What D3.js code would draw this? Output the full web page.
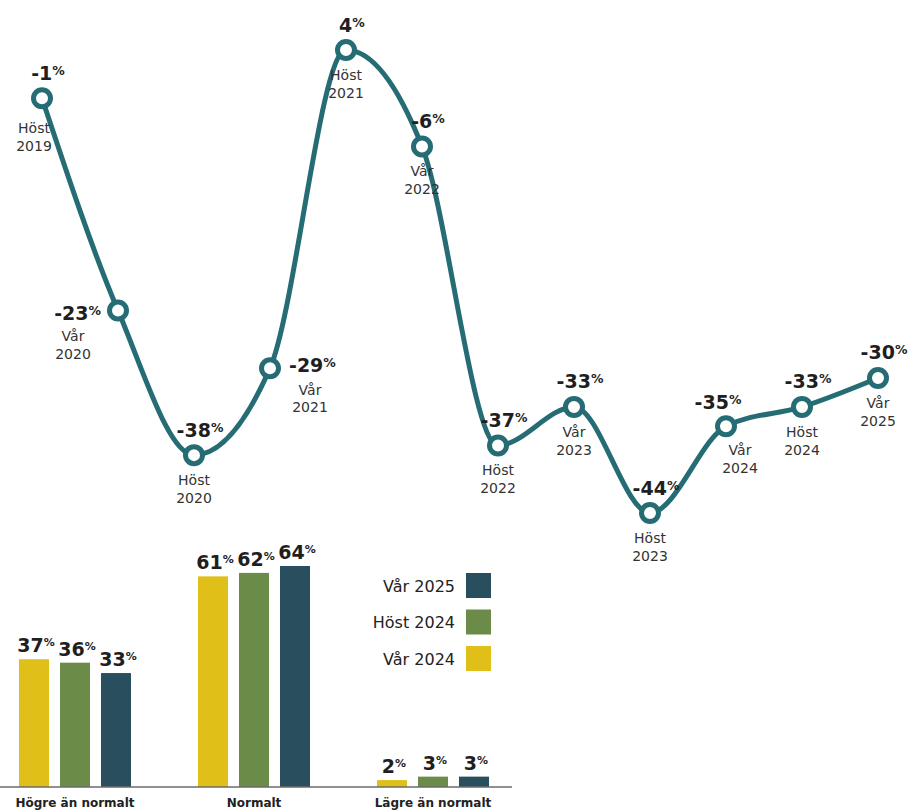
<!DOCTYPE html>
<html>
<head>
<meta charset="utf-8">
<script src="https://cdn.jsdelivr.net/npm/d3@7"></script>
<style>
  body { margin: 0; background: #fff; }
  svg { display: block; font-family: 'DejaVu Sans', sans-serif; }
</style>
</head>
<body>
<div id="chart"></div>
<script>
// line chart: net balance per survey
var periods = ['Höst 2019', 'Vår 2020', 'Höst 2020', 'Vår 2021', 'Höst 2021', 'Vår 2022',
               'Höst 2022', 'Vår 2023', 'Höst 2023', 'Vår 2024', 'Höst 2024', 'Vår 2025']
var balance = [-1, -23, -38, -29, 4, -6, -37, -33, -44, -35, -33, -30]

// bar chart: share of answers in the last three surveys
var groups = ['Högre än normalt', 'Normalt', 'Lägre än normalt']
var seriesNames = ['Vår 2024', 'Höst 2024', 'Vår 2025']
var vaar2024 = [37, 61, 2]
var host2024 = [36, 62, 3]
var vaar2025 = [33, 64, 3]
var seriesValues = [vaar2024, host2024, vaar2025]

var width = 909, height = 810
var lineColor = '#256c74'
var barColors = ['#e0bf19', '#6b8c48', '#294f5e']

// where each point's labels go
var labelSide = ['edge', 'left', 'above', 'right', 'above', 'above',
                 'above', 'above', 'above', 'aboveLeft', 'above', 'above']
var sideOffsets = {
  above:     { vx: 0,   vy: -18.5, anchor: 'middle', cx: 0,   cy: [30, 48] },
  edge:      { vx: 0,   vy: -18.5, anchor: 'middle', cx: -8,  cy: [35, 53] },
  left:      { vx: -17, vy: 9.5,   anchor: 'end',    cx: -45, cy: [31, 49] },
  right:     { vx: 19,  vy: 3.5,   anchor: 'start',  cx: 40,  cy: [27, 44] },
  aboveLeft: { vx: -14, vy: -17,   anchor: 'middle', cx: 14,  cy: [29, 47] }
}

var svg = d3.select('#chart').append('svg')
            .attr('width', width)
            .attr('height', height)

var x = d3.scalePoint().domain(periods).range([42, 878])
var y = d3.scaleLinear().domain([-44, 4]).range([513, 50])

var points = periods.map(function(p, i) {
  return { period: p, value: balance[i], side: labelSide[i] }
})

var line = d3.line()
             .x(function(d) { return x(d.period) })
             .y(function(d) { return y(d.value) })
             .curve(d3.curveMonotoneX)

svg.append('path')
   .datum(points)
   .attr('d', line)
   .attr('fill', 'none')
   .attr('stroke', lineColor)
   .attr('stroke-width', 5)

svg.selectAll('circle.pt')
   .data(points)
   .enter().append('circle')
   .attr('class', 'pt')
   .attr('cx', function(d) { return x(d.period) })
   .attr('cy', function(d) { return y(d.value) })
   .attr('r', 8.5)
   .attr('fill', '#fff')
   .attr('stroke', lineColor)
   .attr('stroke-width', 5)

var valueLabels = svg.selectAll('text.val')
   .data(points)
   .enter().append('text')
   .attr('class', 'val')
   .attr('x', function(d) {
     var o = sideOffsets[d.side]
     return x(d.period) + o.vx + (o.anchor === 'middle' ? 6 : 0)
   })
   .attr('y', function(d) { return y(d.value) + sideOffsets[d.side].vy })
   .attr('text-anchor', function(d) { return sideOffsets[d.side].anchor })
   .attr('fill', '#1f1f1f')
   .attr('font-weight', 'bold')
   .attr('font-size', 19)
valueLabels.append('tspan').text(function(d) { return d.value })
valueLabels.append('tspan')
   .attr('font-size', 12.5)
   .attr('dy', -5)
   .text('%')

var catLabels = svg.selectAll('text.cat')
   .data(points)
   .enter().append('text')
   .attr('class', 'cat')
   .attr('text-anchor', 'middle')
   .attr('fill', '#333')
   .attr('font-size', 14)
catLabels.each(function(d) {
  var o = sideOffsets[d.side]
  var parts = d.period.split(' ')
  var t = d3.select(this)
  parts.forEach(function(part, k) {
    t.append('tspan')
     .attr('x', x(d.period) + o.cx)
     .attr('y', y(d.value) + o.cy[k])
     .text(part)
  })
})

// bar chart
var baseY = 787
var gx = d3.scaleBand().domain(groups).range([19, 19 + 179 * 3])
var sx = d3.scaleBand().domain(seriesNames).range([0, 112]).paddingInner(0.268)
var by = d3.scaleLinear().domain([0, 64]).range([baseY, 566])

var barData = []
groups.forEach(function(g, gi) {
  seriesNames.forEach(function(s, si) {
    barData.push({ group: g, series: s, si: si, value: seriesValues[si][gi] })
  })
})

var bars = svg.append('g')
bars.selectAll('rect')
    .data(barData)
    .enter().append('rect')
    .attr('x', function(d) { return gx(d.group) + sx(d.series) })
    .attr('y', function(d) { return by(d.value) })
    .attr('width', sx.bandwidth())
    .attr('height', function(d) { return baseY - by(d.value) })
    .attr('fill', function(d) { return barColors[d.si] })

var barLabels = bars.selectAll('text.bv')
    .data(barData)
    .enter().append('text')
    .attr('class', 'bv')
    .attr('x', function(d) { return gx(d.group) + sx(d.series) + sx.bandwidth() / 2 + 2 })
    .attr('y', function(d) { return by(d.value) - 7 })
    .attr('text-anchor', 'middle')
    .attr('fill', '#1f1f1f')
    .attr('font-weight', 'bold')
    .attr('font-size', 19)
barLabels.append('tspan').text(function(d) { return d.value })
barLabels.append('tspan')
    .attr('font-size', 11)
    .attr('dy', -6)
    .text('%')

svg.append('line')
   .attr('x1', 0).attr('x2', 512)
   .attr('y1', baseY).attr('y2', baseY)
   .attr('stroke', '#6b6b6b')
   .attr('stroke-width', 1.5)

svg.selectAll('text.grp')
   .data(groups)
   .enter().append('text')
   .attr('class', 'grp')
   .attr('x', function(d) { return gx(d) + 56 })
   .attr('y', 807)
   .attr('text-anchor', 'middle')
   .attr('fill', '#222')
   .attr('font-weight', 'bold')
   .attr('font-size', 12)
   .text(function(d) { return d })

// legend, newest on top
var legend = svg.append('g')
var legendItems = seriesNames.slice().reverse()
legend.selectAll('rect')
      .data(legendItems)
      .enter().append('rect')
      .attr('x', 466)
      .attr('y', function(d, i) { return 573 + i * 36.5 })
      .attr('width', 25)
      .attr('height', 25)
      .attr('fill', function(d) { return barColors[seriesNames.indexOf(d)] })
legend.selectAll('text')
      .data(legendItems)
      .enter().append('text')
      .attr('x', 455)
      .attr('y', function(d, i) { return 591.5 + i * 36.5 })
      .attr('text-anchor', 'end')
      .attr('fill', '#222')
      .attr('font-size', 16)
      .text(function(d) { return d })
</script>
</body>
</html>
